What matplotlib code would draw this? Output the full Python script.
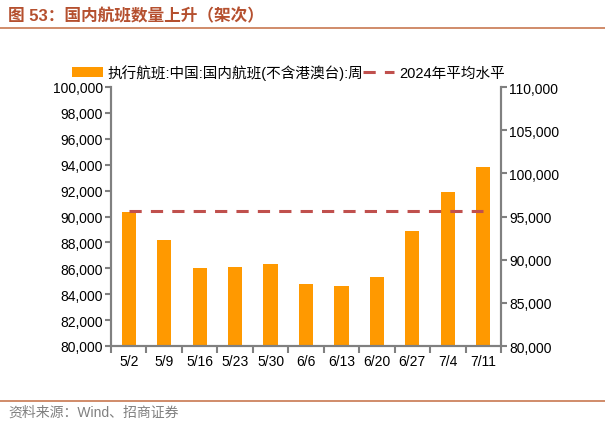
import numpy as np
import matplotlib
matplotlib.use('Agg')
from matplotlib import pyplot as plt
from matplotlib.ticker import FuncFormatter

plt.rcParams['font.family'] = ['Liberation Sans', 'Noto Sans CJK SC', 'DejaVu Sans']

weeks = ['5/2', '5/9', '5/16', '5/23', '5/30', '6/6', '6/13', '6/20', '6/27', '7/4', '7/11']
flights = [90350, 88190, 86020, 86100, 86310, 84760, 84610, 85300, 88860, 91870, 93800]
avg_2024 = 95680

bar_name = '执行航班:中国:国内航班(不含港澳台):周'
line_name = '2024年平均水平'

fig = plt.figure(figsize=(6.05, 4.27), dpi=100)
ax = fig.add_axes([111/605, 1 - 347/427, 390/605, 259/427])
ax2 = ax.twinx()

x = np.arange(len(weeks))
b = ax.bar(x, flights, width=0.4, color='#FF9900', label=bar_name, zorder=2)
ln, = ax2.plot([x[0], x[-1]], [avg_2024, avg_2024], color='#C0504D', lw=2.2,
               dashes=(4, 3), label=line_name, zorder=3)

ax.set_xlim(-0.5, len(weeks) - 0.5)
ax.set_ylim(80000, 100000)
ax.set_yticks(np.arange(80000, 100001, 2000))
ax2.set_ylim(80000, 110000)
ax2.set_yticks(np.arange(80000, 110001, 5000))
fmt = FuncFormatter(lambda v, p: '{:,.0f}'.format(v))
ax.yaxis.set_major_formatter(fmt)
ax2.yaxis.set_major_formatter(fmt)

ax.set_xticks(x)
ax.set_xticklabels(weeks)
ax.set_xticks(np.arange(-0.5, len(weeks), 1), minor=True)
ax.tick_params(axis='x', which='major', length=0, pad=6, labelsize=10)
ax.tick_params(axis='x', which='minor', length=5, color='#808080', width=1.5)
ax.tick_params(axis='y', length=4, color='#808080', width=1.5, labelsize=10, pad=2)
ax2.tick_params(axis='y', length=4, color='#808080', width=1.5, labelsize=10, pad=2)

for a in (ax, ax2):
    a.spines['top'].set_visible(False)
    for s in ('left', 'right', 'bottom'):
        a.spines[s].set_color('#808080')
        a.spines[s].set_linewidth(1.5)

leg = fig.legend([b, ln], [bar_name, line_name], loc='center left',
                 bbox_to_anchor=(72/605, 1 - 73/427), borderaxespad=0, borderpad=0,
                 ncol=2, frameon=False, fontsize=10.5, handlelength=2.1, handleheight=0.7,
                 columnspacing=0.0, handletextpad=0.35)

fig.text(8/605, 1 - 16/427, '图 53：国内航班数量上升（架次）', color='#B5502F',
         fontsize=12, fontweight='bold', va='center', ha='left')
fig.add_artist(plt.Line2D([0, 1], [1 - 29/427, 1 - 29/427], color='#C87850', lw=1.2))
fig.add_artist(plt.Line2D([0, 1], [1 - 402/427, 1 - 402/427], color='#C87850', lw=1.2))
fig.text(8/605, 1 - 413/427, '资料来源：Wind、招商证券', color='#808080',
         fontsize=10, va='center', ha='left')

fig.savefig('out.png', dpi=100)
